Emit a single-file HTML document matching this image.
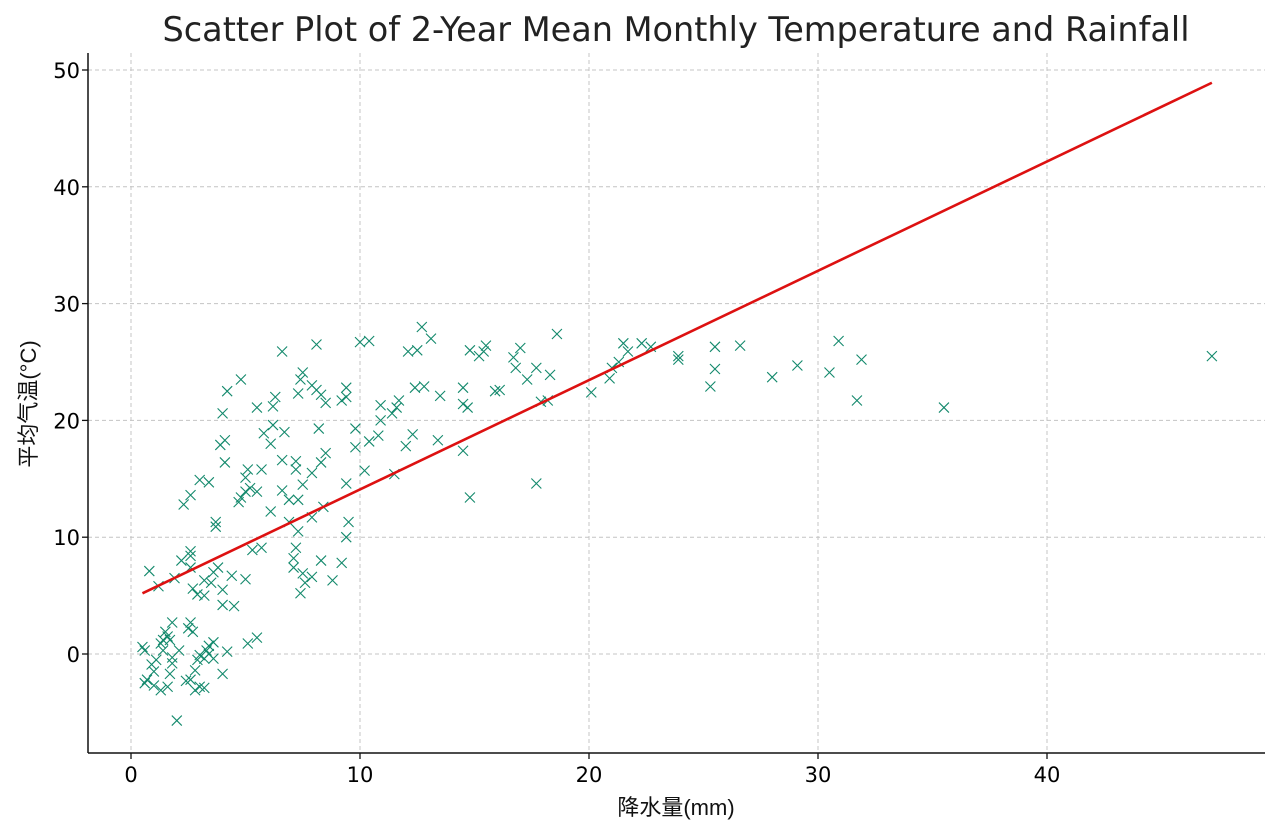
<!DOCTYPE html>
<html><head><meta charset="utf-8"><style>
html,body{margin:0;padding:0;background:#fff;}
svg{display:block;font-family:"DejaVu Sans","Liberation Sans","Noto Sans CJK SC",sans-serif;}
</style></head><body>
<svg id="chart" width="1280" height="835" xmlns="http://www.w3.org/2000/svg">
<text x="676" y="41" font-size="33.5" text-anchor="middle" fill="#222">Scatter Plot of 2-Year Mean Monthly Temperature and Rainfall</text>
<g id="grid"></g>
<g id="pts"></g>
<g id="fit"></g>
<g id="axes"></g>
<text x="676" y="815" font-size="22" text-anchor="middle" fill="#111" font-family="'Liberation Sans','Noto Sans CJK SC',sans-serif">降水量(mm)</text>
<text transform="translate(36,404) rotate(-90)" font-size="22" text-anchor="middle" fill="#111" font-family="'Liberation Sans','Noto Sans CJK SC',sans-serif">平均气温(°C)</text>
</svg>
<script>
const xTicks=[0,10,20,30,40];
const yTicks=[0,10,20,30,40,50];
const rainfall=[47.2,35.5,31.9,31.7,30.9,30.5,29.1,28.0,26.6,25.5,25.5,25.3,23.9,23.9,22.7,22.3,21.5,21.7,21.3,21.0,20.9,20.1,18.6,18.2,17.9,17.7,18.3,17.7,17.3,17.0,16.7,16.8,16.1,15.9,15.5,15.4,15.2,14.8,14.5,14.5,14.7,14.5,14.8,13.5,13.4,13.1,12.7,12.8,12.5,12.1,12.4,12.3,12.0,11.7,11.6,11.4,11.5,10.9,10.9,10.8,10.4,10.4,10.0,10.2,9.8,9.8,9.4,9.4,9.2,9.4,9.5,9.4,9.2,8.8,8.5,8.3,8.1,8.1,7.9,8.2,8.3,8.5,7.9,8.4,7.9,8.3,7.9,7.6,7.4,7.5,7.4,7.5,7.3,7.2,7.2,7.5,7.3,7.3,7.2,7.1,7.1,6.9,6.6,6.7,6.6,6.6,6.9,6.2,6.1,6.1,6.3,6.2,5.8,5.7,5.5,5.7,5.3,5.5,5.5,5.1,5.0,5.0,5.2,4.8,4.7,4.4,4.5,5.0,5.1,4.8,4.2,4.1,4.0,4.1,3.9,3.7,3.7,3.8,3.6,4.0,4.0,4.0,4.2,3.4,3.0,3.2,3.5,3.2,3.4,3.4,3.2,3.6,2.9,2.7,2.6,2.6,2.6,2.3,2.2,1.9,1.8,2.6,2.6,2.5,2.7,2.8,2.6,2.8,3.0,3.2,2.9,3.0,2.0,2.1,1.8,1.8,1.7,1.6,1.5,1.3,1.4,1.7,1.6,1.3,1.0,0.9,1.0,0.8,1.2,0.6,0.5,0.6,0.7,1.1,1.4,2.4,3.6,3.3];
const temperature=[25.5,21.1,25.2,21.7,26.8,24.1,24.7,23.7,26.4,26.3,24.4,22.9,25.5,25.2,26.3,26.6,26.6,25.9,25.0,24.5,23.6,22.4,27.4,21.7,21.6,24.5,23.9,14.6,23.5,26.2,25.4,24.5,22.6,22.5,26.4,25.9,25.5,26.0,22.8,21.4,21.1,17.4,13.4,22.1,18.3,27.0,28.0,22.9,26.0,25.9,22.8,18.8,17.8,21.7,21.1,20.6,15.4,21.3,20.0,18.7,18.2,26.8,26.7,15.7,17.7,19.3,22.8,22.0,21.7,14.6,11.3,10.0,7.8,6.3,21.5,22.2,26.5,22.6,23.0,19.3,16.4,17.2,15.5,12.6,11.7,8.0,6.6,6.1,5.2,6.9,23.5,24.1,22.3,16.5,15.8,14.5,13.2,10.5,9.1,8.2,7.4,11.3,25.9,19.0,16.6,14.0,13.2,19.6,18.0,12.2,22.0,21.2,18.9,15.8,13.9,9.1,8.9,1.4,21.1,15.8,15.1,13.9,14.2,13.4,13.0,6.7,4.1,6.4,0.9,23.5,22.5,16.4,20.6,18.3,17.9,11.3,10.9,7.4,7.0,5.5,4.2,-1.7,0.2,14.7,14.9,6.3,6.1,5.0,0.7,0.0,-0.4,-0.4,5.1,5.6,8.8,8.4,7.4,12.8,8.0,6.5,2.7,13.6,2.7,2.2,1.9,-1.4,-2.2,-3.1,-2.8,-2.9,-0.5,-0.1,-5.7,0.3,-0.3,-0.8,1.2,1.5,1.9,0.9,0.3,-1.7,-2.8,-3.1,-2.7,-0.9,-1.5,7.1,5.8,0.3,0.6,-2.5,-2.2,-0.5,1.2,-2.3,1.0,0.3];
const fitCoef=[0.936,4.73]; // slope, intercept

const NS='http://www.w3.org/2000/svg';
const L=88,R=1265,T=53,B=753;
const sx=v=>131+v*22.9;
const sy=v=>654-v*11.68;
function mk(tag,attrs,parent){const e=document.createElementNS(NS,tag);for(const k in attrs)e.setAttribute(k,attrs[k]);parent.appendChild(e);return e;}
const grid=document.getElementById('grid'),axes=document.getElementById('axes'),pts=document.getElementById('pts'),fit=document.getElementById('fit');
xTicks.forEach(t=>{
  const g=mk('line',{x1:sx(t),x2:sx(t),y1:T,y2:B,stroke:'#c4c4c4','stroke-width':1,'stroke-dasharray':'4,3'},grid);
  
  
  const tk=mk('line',{x1:sx(t),x2:sx(t),y1:B,y2:B+6,stroke:'#111','stroke-width':1.3},axes);
  
  
  const tx=mk('text',{x:sx(t),y:B+29,'font-size':21,'text-anchor':'middle',fill:'#000'},axes);
  tx.textContent=t;
  
  
});
yTicks.forEach(t=>{
  const g=mk('line',{x1:L,x2:R,y1:sy(t),y2:sy(t),stroke:'#c4c4c4','stroke-width':1,'stroke-dasharray':'4,3'},grid);
  
  
  const tk=mk('line',{x1:L-6,x2:L,y1:sy(t),y2:sy(t),stroke:'#111','stroke-width':1.3},axes);
  
  
  const tx=mk('text',{x:L-8,y:sy(t)+8,'font-size':21,'text-anchor':'end',fill:'#000'},axes);
  tx.textContent=t;
  
  
});
const xa=mk('line',{x1:L,x2:R,y1:B,y2:B,stroke:'#111','stroke-width':1.5},axes);


const ya=mk('line',{x1:L,x2:L,y1:T,y2:B,stroke:'#111','stroke-width':1.5},axes);


const r=5;
rainfall.forEach((xv,i)=>{
  const cx=sx(xv),cy=sy(temperature[i]);
  const p=mk('path',{d:`M${cx-r},${cy-r}L${cx+r},${cy+r}M${cx-r},${cy+r}L${cx+r},${cy-r}`,stroke:'#13896c','stroke-width':1.1,fill:'none'},pts);
  
  
});
const xmin=Math.min(...rainfall),xmax=Math.max(...rainfall);
const ln=mk('line',{x1:sx(xmin),y1:sy(fitCoef[0]*xmin+fitCoef[1]),x2:sx(xmax),y2:sy(fitCoef[0]*xmax+fitCoef[1]),stroke:'#dd1111','stroke-width':2.6},fit);


</script>
</body></html>
